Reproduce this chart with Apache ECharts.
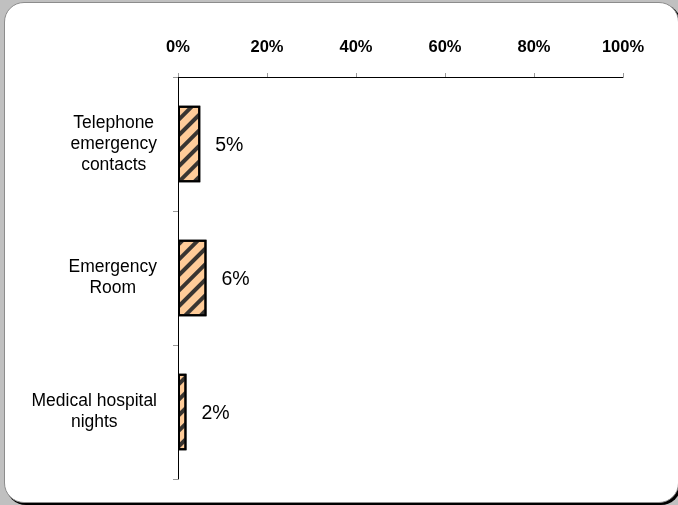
<!DOCTYPE html>
<html>
<head>
<meta charset="utf-8">
<script src="https://cdn.jsdelivr.net/npm/echarts@6/dist/echarts.min.js"></script>
<style>
html,body{margin:0;padding:0;width:678px;height:505px;overflow:hidden;background:#c0c0c0;}
#frame{position:absolute;left:4px;top:2px;width:673px;height:499px;border-radius:20px;background:#fff;border:1px solid #8c8c8c;box-shadow:2px 2px 0 #000;}
#chart{position:absolute;left:0;top:0;width:678px;height:505px;}
</style>
</head>
<body>
<div id="frame"></div>
<div id="chart"></div>
<script>
const categories = ['Telephone\nemergency\ncontacts', 'Emergency\nRoom', 'Medical hospital\nnights'];
const values = [5.0, 6.4, 1.9];
const xTicks = [0, 20, 40, 60, 80, 100];

const FONT = 'Liberation Sans, Arial, sans-serif';
const CAT_SIZE = 17.5;

// centre each line inside a right-aligned block: pad shorter lines on the right
const ctx = document.createElement('canvas').getContext('2d');
ctx.font = CAT_SIZE + 'px "Liberation Sans", Arial, sans-serif';
const rich = {};
const catText = {};
categories.forEach((c, ci) => {
  const lines = c.split('\n');
  const widths = lines.map(s => ctx.measureText(s).width);
  const maxW = Math.max(...widths);
  catText[c] = lines.map((s, li) => {
    const name = 'l' + ci + '_' + li;
    rich[name] = {
      fontFamily: FONT, fontSize: CAT_SIZE, lineHeight: 21, color: '#000',
      padding: [0, (maxW - widths[li]) / 2, 0, 0]
    };
    return '{' + name + '|' + s + '}';
  }).join('\n');
});

const chart = echarts.init(document.getElementById('chart'), null, {renderer: 'canvas'});
const option = {
  backgroundColor: 'transparent',
  animation: false,
  grid: {left: 178, right: 55, top: 77, bottom: 26, containLabel: false, outerBoundsMode: 'none'},
  xAxis: {
    type: 'value',
    position: 'top',
    min: xTicks[0],
    max: xTicks[xTicks.length - 1],
    interval: 20,
    axisLine: {show: true, lineStyle: {color: '#000', width: 1}},
    axisTick: {show: true, length: 4, lineStyle: {color: '#999'}},
    splitLine: {show: false},
    axisLabel: {
      margin: 21,
      color: '#000',
      fontFamily: FONT,
      fontWeight: 'bold',
      fontSize: 16.5,
      formatter: v => v + '%'
    }
  },
  yAxis: {
    type: 'category',
    inverse: true,
    data: categories,
    axisLine: {show: true, onZero: false, lineStyle: {color: '#000', width: 1}},
    axisTick: {show: true, length: 5, lineStyle: {color: '#999'}},
    axisLabel: {
      margin: 21,
      color: '#000',
      fontFamily: FONT,
      fontSize: CAT_SIZE,
      lineHeight: 21,
      formatter: v => catText[v],
      rich: rich
    }
  },
  series: [{
    type: 'bar',
    data: values,
    barCategoryGap: '43%',
    itemStyle: {
      color: '#FFCC99',
      borderColor: '#000',
      borderWidth: 2,
      decal: {
        symbol: 'rect',
        symbolSize: 1,
        color: 'rgba(40,40,40,0.92)',
        dashArrayX: [[1, 0]],
        dashArrayY: [4, 7],
        rotation: -Math.PI / 4
      }
    },
    label: {
      show: true,
      position: 'right',
      distance: 14,
      offset: [1, 2],
      color: '#000',
      fontFamily: FONT,
      fontSize: 19.5,
      formatter: p => Math.round(p.value) + '%'
    }
  }]
};
chart.setOption(option);
</script>
</body>
</html>
